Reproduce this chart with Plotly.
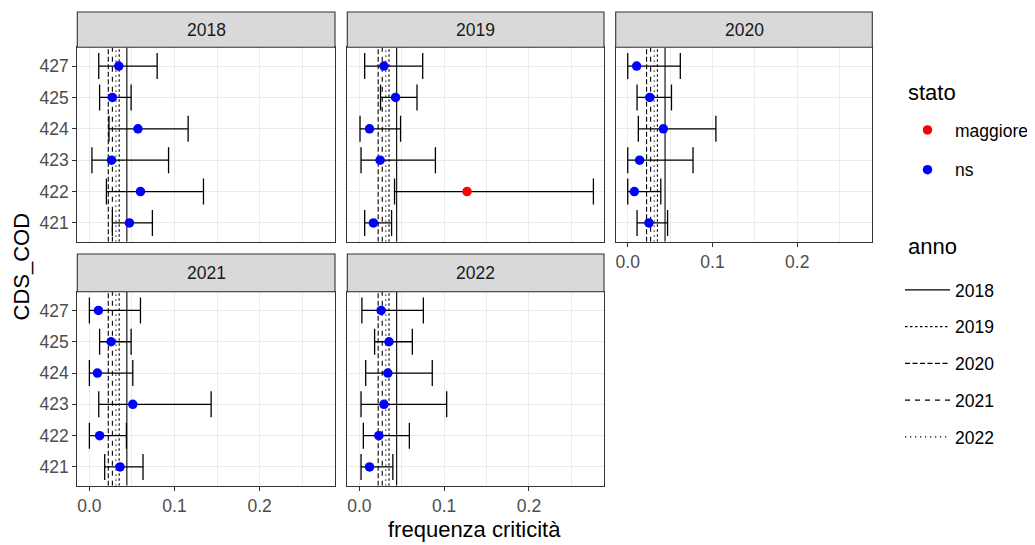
import plotly.graph_objects as go

# ---------------- data ----------------
years = ["2018", "2019", "2020", "2021", "2022"]
cds = ["421", "422", "423", "424", "425", "427"]

freq = {
    "2018": [0.047, 0.060, 0.026, 0.057, 0.027, 0.0345],
    "2019": [0.0166, 0.127, 0.0245, 0.012, 0.0427, 0.029],
    "2020": [0.025, 0.0078, 0.014, 0.042, 0.026, 0.0105],
    "2021": [0.036, 0.012, 0.051, 0.0094, 0.0255, 0.0106],
    "2022": [0.012, 0.023, 0.029, 0.0336, 0.035, 0.0257],
}
ci_low = {
    "2018": [0.027, 0.020, 0.003, 0.023, 0.012, 0.011],
    "2019": [0.0063, 0.0415, 0.002, 0.0008, 0.025, 0.0063],
    "2020": [0.011, 0.0, 0.0, 0.0125, 0.011, 0.0],
    "2021": [0.018, 0.0, 0.011, 0.0, 0.012, 0.0],
    "2022": [0.002, 0.0047, 0.002, 0.0075, 0.018, 0.003],
}
ci_high = {
    "2018": [0.074, 0.134, 0.093, 0.116, 0.049, 0.0796],
    "2019": [0.038, 0.276, 0.0897, 0.0486, 0.068, 0.0747],
    "2020": [0.047, 0.039, 0.077, 0.104, 0.0516, 0.062],
    "2021": [0.063, 0.0435, 0.143, 0.051, 0.049, 0.060],
    "2022": [0.0395, 0.059, 0.103, 0.086, 0.0625, 0.0755],
}
stato = {
    "2018": ["ns"] * 6,
    "2019": ["ns", "maggiore", "ns", "ns", "ns", "ns"],
    "2020": ["ns"] * 6,
    "2021": ["ns"] * 6,
    "2022": ["ns"] * 6,
}
# overall reference value per year (vertical lines)
anno_ref = {"2018": 0.0440, "2019": 0.0350, "2020": 0.0222, "2021": 0.0270, "2022": 0.0312}

# ---------------- styles ----------------
stato_colors = {"maggiore": "#FF0000", "ns": "#0000FF"}
anno_dash = {"2018": "solid", "2019": "2.5px,2.5px", "2020": "5px,2.5px",
             "2021": "5px,5px", "2022": "1.25px,3.75px"}

OFF = 8  # page body margin
W, H = 1035 - OFF, 545 - OFF
FONT = "Liberation Sans, Arial, sans-serif"
TXT = 17.5
TITLE = 22

def fx(p):
    return (p - OFF) / W

def fy(p):
    return 1 - (p - OFF) / H

col_px = [(77.3, 335.0), (347.3, 604.0), (615.7, 872.3)]
row_px = [(47.3, 241.7), (291.7, 485.7)]
strip_top = [12.0, 254.0]

XRANGE = [-0.0142, 0.2885]
YRANGE = [0.4, 6.6]
ypos = list(range(1, len(cds) + 1))

fig = go.Figure()
layout = {}
shapes = []
annotations = []

for k, yr in enumerate(years, start=1):
    r, c = divmod(k - 1, 3)
    xa = "x" if k == 1 else f"x{k}"
    ya = "y" if k == 1 else f"y{k}"
    xkey = "xaxis" if k == 1 else f"xaxis{k}"
    ykey = "yaxis" if k == 1 else f"yaxis{k}"

    show_x = (k >= 3)
    show_y = (c == 0)

    layout[xkey] = dict(
        domain=[fx(col_px[c][0]), fx(col_px[c][1])], anchor=ya, range=XRANGE,
        tick0=0, dtick=0.1, tickformat=".1f",
        showgrid=True, gridcolor="#EBEBEB", gridwidth=1.1,
        minor=dict(dtick=0.05, tick0=0, showgrid=True, gridcolor="#EBEBEB", gridwidth=0.55),
        showline=True, linecolor="#333333", linewidth=1.1, mirror=True,
        ticks="outside" if show_x else "", ticklen=4, tickcolor="#333333", tickwidth=1.1,
        showticklabels=show_x, tickfont=dict(family=FONT, size=TXT, color="#4D4D4D"),
        zeroline=False, fixedrange=True,
    )
    layout[ykey] = dict(
        domain=[fy(row_px[r][1]), fy(row_px[r][0])], anchor=xa, range=YRANGE,
        tickvals=ypos, ticktext=cds,
        showgrid=True, gridcolor="#EBEBEB", gridwidth=1.1,
        showline=True, linecolor="#333333", linewidth=1.1, mirror=True,
        ticks="outside" if show_y else "", ticklen=4, tickcolor="#333333", tickwidth=1.1,
        showticklabels=show_y, tickfont=dict(family=FONT, size=TXT, color="#4D4D4D"),
        zeroline=False, fixedrange=True,
    )

    # vertical reference lines (one per anno)
    for a in years:
        fig.add_trace(go.Scatter(
            x=[anno_ref[a], anno_ref[a]], y=YRANGE, xaxis=xa, yaxis=ya,
            mode="lines", line=dict(color="#000000", width=1.1, dash=anno_dash[a]),
            name=a, legend="legend2", legendgroup="anno" + a,
            showlegend=(k == 1), hoverinfo="skip",
        ))

    # points with error bars, split by stato
    for st in ["maggiore", "ns"]:
        idx = [i for i, s in enumerate(stato[yr]) if s == st]
        if not idx:
            continue
        xs = [freq[yr][i] for i in idx]
        ys = [ypos[i] for i in idx]
        plus = [ci_high[yr][i] - freq[yr][i] for i in idx]
        minus = [freq[yr][i] - ci_low[yr][i] for i in idx]
        first = (st == "maggiore" and yr == "2019") or (st == "ns" and yr == "2018")
        fig.add_trace(go.Scatter(
            x=xs, y=ys, xaxis=xa, yaxis=ya, mode="markers",
            marker=dict(color=stato_colors[st], size=9.5),
            error_x=dict(type="data", array=plus, arrayminus=minus, symmetric=False,
                         color="#000000", thickness=1.3, width=13),
            name=st, legend="legend", legendgroup="stato" + st,
            legendrank=1 if st == "maggiore" else 2,
            showlegend=first,
        ))

    # strip
    shapes.append(dict(type="rect", xref="paper", yref="paper",
                       x0=fx(col_px[c][0]), x1=fx(col_px[c][1]),
                       y0=fy(row_px[r][0]), y1=fy(strip_top[r]),
                       fillcolor="#D9D9D9", line=dict(color="#333333", width=1.1),
                       layer="above"))
    annotations.append(dict(text=yr, xref="paper", yref="paper",
                            x=fx((col_px[c][0] + col_px[c][1]) / 2),
                            y=fy((strip_top[r] + row_px[r][0]) / 2),
                            showarrow=False, xanchor="center", yanchor="middle",
                            font=dict(family=FONT, size=TXT, color="#1A1A1A")))

# axis titles
annotations.append(dict(text="frequenza criticità", xref="paper", yref="paper",
                        x=fx((col_px[0][0] + col_px[2][1]) / 2), y=fy(529),
                        showarrow=False, xanchor="center", yanchor="middle",
                        font=dict(family=FONT, size=TITLE, color="#000000")))
annotations.append(dict(text="CDS_COD", xref="paper", yref="paper",
                        x=fx(21), y=fy((row_px[0][0] + row_px[1][1]) / 2),
                        showarrow=False, xanchor="center", yanchor="middle", textangle=-90,
                        font=dict(family=FONT, size=TITLE, color="#000000")))
# legend titles
annotations.append(dict(text="stato", xref="paper", yref="paper",
                        x=fx(906), y=fy(92), showarrow=False,
                        xanchor="left", yanchor="middle",
                        font=dict(family=FONT, size=TITLE, color="#000000")))
annotations.append(dict(text="anno", xref="paper", yref="paper",
                        x=fx(906), y=fy(246), showarrow=False,
                        xanchor="left", yanchor="middle",
                        font=dict(family=FONT, size=TITLE, color="#000000")))

fig.update_layout(
    width=W, height=H,
    margin=dict(l=0, r=0, t=0, b=0),
    paper_bgcolor="white", plot_bgcolor="white",
    font=dict(family=FONT),
    shapes=shapes, annotations=annotations,
    legend=dict(
        x=fx(900), y=fy(112), xanchor="left", yanchor="top",
        font=dict(family=FONT, size=TXT, color="#000000"),
        itemwidth=45, tracegroupgap=14, bgcolor="rgba(0,0,0,0)", borderwidth=0,
    ),
    legend2=dict(
        x=fx(900), y=fy(272), xanchor="left", yanchor="top",
        font=dict(family=FONT, size=TXT, color="#000000"),
        itemwidth=45, tracegroupgap=11, bgcolor="rgba(0,0,0,0)", borderwidth=0,
    ),
    **layout,
)

fig.write_html("out.html")
